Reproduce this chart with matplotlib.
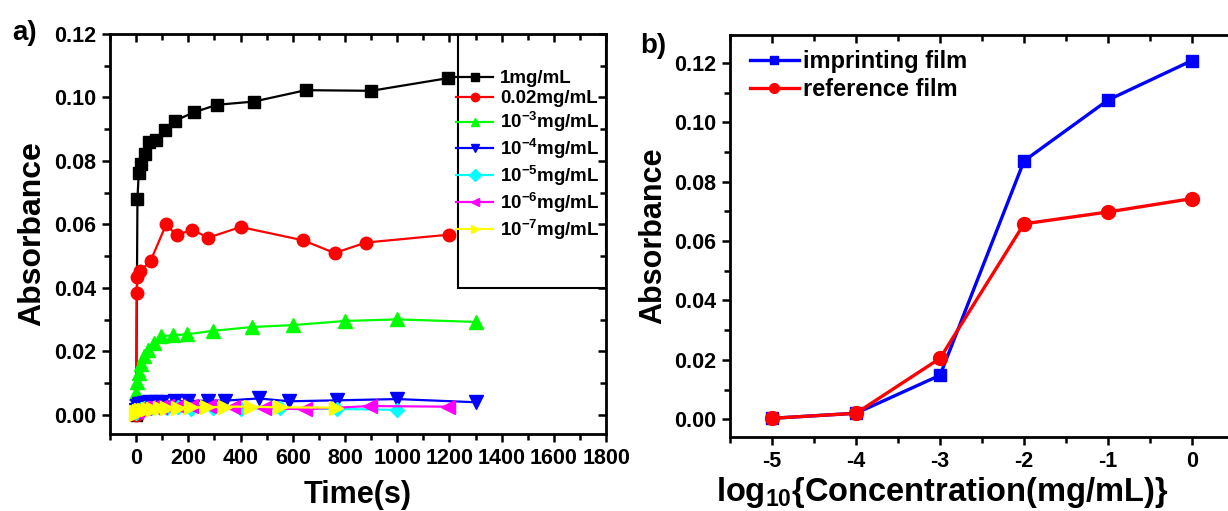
import matplotlib
matplotlib.use('Agg')
import matplotlib.pyplot as plt
from matplotlib.patches import Rectangle
from matplotlib.ticker import MultipleLocator

plt.rcParams['font.family'] = ['Liberation Sans', 'DejaVu Sans']
plt.rcParams['font.weight'] = 'bold'
plt.rcParams['axes.labelweight'] = 'bold'
plt.rcParams['axes.unicode_minus'] = False
plt.rcParams['mathtext.fontset'] = 'custom'
plt.rcParams['mathtext.rm'] = 'Liberation Sans:bold'
plt.rcParams['mathtext.it'] = 'Liberation Sans:bold'
plt.rcParams['mathtext.bf'] = 'Liberation Sans:bold'
plt.rcParams['mathtext.default'] = 'rm'

# ---- panel a: absorbance vs time for each concentration ----
t_1mg = [0, 5, 10, 20, 35, 50, 75, 110, 150, 220, 310, 450, 650, 900, 1195]
a_1mg = [0.0, 0.068, 0.0763, 0.079, 0.0822, 0.0859, 0.0866, 0.0898, 0.0927,
         0.0953, 0.0977, 0.0987, 0.1023, 0.1021, 0.1061]

t_002 = [0, 2, 5, 15, 55, 115, 155, 215, 275, 400, 640, 760, 880, 1200]
a_002 = [0.0, 0.0384, 0.0433, 0.0453, 0.0485, 0.060, 0.0566, 0.0584, 0.0558,
         0.0592, 0.055, 0.051, 0.0543, 0.0568]

t_e3 = [1, 5, 10, 20, 30, 45, 70, 97, 140, 195, 295, 445, 600, 800, 1000, 1300]
a_e3 = [0.0070, 0.0105, 0.0131, 0.0162, 0.0185, 0.0206, 0.0227, 0.0248, 0.0251,
        0.0254, 0.0265, 0.0277, 0.0283, 0.0296, 0.0301, 0.0293]

t_e4 = [0, 5, 10, 20, 30, 50, 75, 100, 150, 200, 275, 340, 470, 585, 770, 1000, 1300]
a_e4 = [0.0015, 0.0028, 0.0033, 0.0036, 0.0038, 0.0040, 0.0041, 0.0042, 0.0043,
        0.0044, 0.0045, 0.0045, 0.0052, 0.0043, 0.0046, 0.0050, 0.0040]

t_e5 = [0, 5, 10, 20, 30, 45, 65, 90, 120, 160, 210, 295, 400, 550, 770, 1000]
a_e5 = [0.0005, 0.0012, 0.0016, 0.0019, 0.0021, 0.0022, 0.0023, 0.0023, 0.0022,
        0.0024, 0.0020, 0.0022, 0.0020, 0.0021, 0.0019, 0.0016]

t_e6 = [0, 5, 10, 20, 30, 45, 65, 90, 120, 160, 210, 280, 370, 490, 645, 895, 1195]
a_e6 = [0.0008, 0.0014, 0.0018, 0.0021, 0.0023, 0.0024, 0.0025, 0.0026, 0.0027,
        0.0027, 0.0028, 0.0027, 0.0026, 0.0021, 0.0018, 0.0028, 0.0026]

t_e7 = [0, 5, 10, 20, 30, 45, 65, 90, 120, 160, 210, 270, 340, 440, 550, 765]
a_e7 = [0.0002, 0.0008, 0.0012, 0.0015, 0.0017, 0.0019, 0.0020, 0.0021, 0.0022,
        0.0023, 0.0024, 0.0024, 0.0026, 0.0026, 0.0024, 0.0023]

labels_a = ['1mg/mL', '0.02mg/mL', '10$^{-3}$mg/mL', '10$^{-4}$mg/mL',
            '10$^{-5}$mg/mL', '10$^{-6}$mg/mL', '10$^{-7}$mg/mL']

# ---- panel b: absorbance vs log concentration ----
log_conc = [-5, -4, -3, -2, -1, 0]
imprinting = [0.0003, 0.002, 0.0148, 0.087, 0.1075, 0.1208]
reference = [0.0003, 0.002, 0.0205, 0.0658, 0.0698, 0.0743]


def style_axes(ax, right=True):
    for s in ax.spines.values():
        s.set_linewidth(2.0)
    ax.tick_params(which='both', width=1.8, labelsize=15.5, pad=4)
    ax.tick_params(which='major', length=6)
    ax.tick_params(which='minor', length=4)
    ax.tick_params(which='both', top=True, right=right, direction='out')
    # mirrored ticks on top/right point inward
    for tk in ax.xaxis.get_major_ticks() + ax.xaxis.get_minor_ticks():
        tk.tick2line.set_marker(3)
    for tk in ax.yaxis.get_major_ticks() + ax.yaxis.get_minor_ticks():
        tk.tick2line.set_marker(0)


fig = plt.figure(figsize=(12.28, 5.11), dpi=100)

ax1 = fig.add_axes([0.0896, 0.1507, 0.404, 0.7828])
series = [
    (t_1mg, a_1mg, 'black', 's', 8),
    (t_002, a_002, 'red', 'o', 9),
    (t_e3, a_e3, '#00ff00', '^', 10),
    (t_e4, a_e4, 'blue', 'v', 10),
    (t_e5, a_e5, 'cyan', 'D', 7),
    (t_e6, a_e6, 'magenta', '<', 10),
    (t_e7, a_e7, 'yellow', '>', 10),
]
handles = []
for (t, a, c, m, ms), lab in zip(series, labels_a):
    ax1.plot(t, a, color=c, lw=1.6, marker=m, ms=ms, mec=c, mfc=c)
    h, = ax1.plot([], [], color=c, lw=1.6, marker=m, ms=6, mec=c, mfc=c)
    handles.append(h)

ax1.set_xlim(-100, 1800)
ax1.set_ylim(-0.006, 0.12)
ax1.xaxis.set_major_locator(MultipleLocator(200))
ax1.xaxis.set_minor_locator(MultipleLocator(100))
ax1.yaxis.set_major_locator(MultipleLocator(0.02))
ax1.yaxis.set_minor_locator(MultipleLocator(0.01))
ax1.yaxis.set_major_formatter(plt.FormatStrFormatter('%.2f'))
style_axes(ax1)
ax1.set_xlabel('Time(s)', fontsize=22, labelpad=8)
ax1.set_ylabel('Absorbance', fontsize=23, labelpad=5)

ax1.add_patch(Rectangle((0.7016, 0.365), 0.2984, 0.635, transform=ax1.transAxes,
                        fill=False, lw=1.5, ec='black', zorder=5))
ax1.legend(handles, labels_a, loc='center left', bbox_to_anchor=(0.697, 0.695),
           frameon=False, fontsize=13.5, handlelength=2.0, handletextpad=0.35,
           labelspacing=0.15, borderaxespad=0, borderpad=0)

fig.text(0.010, 0.935, 'a)', fontsize=20, va='center')

ax2 = fig.add_axes([0.5945, 0.1448, 0.4104, 0.7867])
ax2.plot(log_conc, imprinting, color='blue', lw=2.4, marker='s', ms=9,
         label='imprinting film')
ax2.plot(log_conc, reference, color='red', lw=2.4, marker='o', ms=10,
         label='reference film')
ax2.set_xlim(-5.5, 0.5)
ax2.set_ylim(-0.006, 0.1294)
ax2.xaxis.set_major_locator(MultipleLocator(1))
ax2.xaxis.set_minor_locator(MultipleLocator(0.5))
ax2.yaxis.set_major_locator(MultipleLocator(0.02))
ax2.yaxis.set_minor_locator(MultipleLocator(0.01))
ax2.yaxis.set_major_formatter(plt.FormatStrFormatter('%.2f'))
style_axes(ax2, right=False)
ax2.set_xlabel('log$_{10}${Concentration(mg/mL)}', fontsize=23.5, labelpad=2,
               x=0.42)
ax2.set_ylabel('Absorbance', fontsize=22, labelpad=4)
ax2.legend(loc='upper left', bbox_to_anchor=(0.02, 0.985), frameon=False,
           fontsize=17, handlelength=2.1, handletextpad=0.15, labelspacing=0.2,
           borderaxespad=0, markerscale=0.7)

fig.text(0.521, 0.910, 'b)', fontsize=20, va='center')

fig.savefig('out.png', dpi=100)
plt.close()
